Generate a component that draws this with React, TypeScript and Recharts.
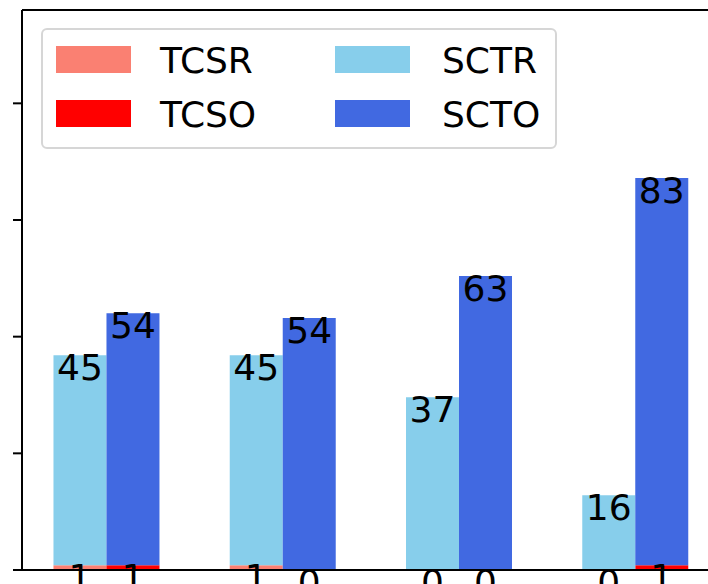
import React from 'react';
import { BarChart, Bar, XAxis, YAxis, ReferenceLine, LabelList, Legend } from 'recharts';

const positions = [0, 1, 2, 3];
const tcsr = [1, 1, 0, 0];
const tcso = [1, 0, 0, 1];
const sctr = [45, 45, 37, 16];
const scto = [54, 54, 63, 83];
const yTicks = [0, 25, 50, 75, 100];

const seriesInfo = [
  { key: 'TCSR', color: '#FA8072' },
  { key: 'TCSO', color: '#FF0000' },
  { key: 'SCTR', color: '#87CEEB' },
  { key: 'SCTO', color: '#4169E1' },
];

const data = positions.map((x, i) => ({
  x,
  TCSR: tcsr[i],
  TCSO: tcso[i],
  SCTR: sctr[i],
  SCTO: scto[i],
}));

const FONT = 'DejaVu Sans, sans-serif';

const NumText = ({ cx, top, value }: { cx: number; top: number; value: any }) => (
  <text x={cx} y={top + 25} textAnchor="middle" fontSize={36} fontFamily={FONT} fill="#000">
    {value}
  </text>
);

// Labels for the upper segment (value at its top) and for the bottom segment
// (value at the top of the bottom segment = bottom of the upper segment).
const makeStackLabel = (bottomValues: number[]) => (props: any) => {
  const { x, y, width, height, value, index } = props;
  const cx = Number(x) + Number(width) / 2;
  const top = Number(y);
  const bottomTop = Number(y) + Number(height);
  return (
    <g>
      <NumText cx={cx} top={top} value={value} />
      <NumText cx={cx} top={bottomTop} value={bottomValues[index]} />
    </g>
  );
};

const EmptyTick = () => <g />;

const LegendBox = () => {
  const cols = [
    [seriesInfo[0], seriesInfo[1]],
    [seriesInfo[2], seriesInfo[3]],
  ];
  const colX = [15, 294];
  const textX = [119, 401];
  const rowY = [18, 72];
  const baseY = [45, 99];
  return (
    <svg width={516} height={121} style={{ display: 'block' }}>
      <rect x={1} y={1} width={514} height={119} rx={5} ry={5} fill="rgba(255,255,255,0.8)" stroke="#d6d6d6" strokeWidth={2} />
      {cols.map((col, c) =>
        col.map((s, r) => (
          <g key={s.key}>
            <rect x={colX[c]} y={rowY[r]} width={75} height={27} fill={s.color} />
            <text x={textX[c]} y={baseY[r]} fontSize={36} fontFamily={FONT} fill="#000">
              {s.key}
            </text>
          </g>
        ))
      )}
    </svg>
  );
};

export default function App() {
  return (
    <div style={{ position: 'absolute', left: 0, top: 0, width: 708, height: 584, overflow: 'hidden', background: '#fff' }}>
      <BarChart
        width={740}
        height={620}
        data={data}
        margin={{ top: 10, right: 20, bottom: 49, left: 0 }}
        barGap={0}
      >
        <XAxis
          dataKey="x"
          type="number"
          domain={[-0.48, 3.48]}
          allowDataOverflow
          tick={EmptyTick}
          tickLine={false}
          height={1}
          axisLine={{ stroke: '#000', strokeWidth: 2 }}
        />
        <YAxis
          type="number"
          domain={[0, 120]}
          ticks={yTicks}
          allowDataOverflow
          width={22}
          tick={EmptyTick}
          tickSize={9}
          tickLine={{ stroke: '#000', strokeWidth: 2 }}
          axisLine={{ stroke: '#000', strokeWidth: 2 }}
        />
        <ReferenceLine y={120} stroke="#000" strokeWidth={2} />
        <ReferenceLine x={3.48} stroke="#000" strokeWidth={2} />
        <Legend
          layout="horizontal"
          verticalAlign="middle"
          align="center"
          wrapperStyle={{ position: 'absolute', left: 41, top: 28, width: 516, height: 121 }}
          content={() => <LegendBox />}
        />
        <Bar dataKey="TCSR" stackId="r" fill="#FA8072" barSize={53} isAnimationActive={false} />
        <Bar dataKey="TCSO" stackId="o" fill="#FF0000" barSize={53} isAnimationActive={false} />
        <Bar dataKey="SCTR" stackId="r" fill="#87CEEB" barSize={53} isAnimationActive={false}>
          <LabelList dataKey="SCTR" content={makeStackLabel(tcsr)} />
        </Bar>
        <Bar dataKey="SCTO" stackId="o" fill="#4169E1" barSize={53} isAnimationActive={false}>
          <LabelList dataKey="SCTO" content={makeStackLabel(tcso)} />
        </Bar>
      </BarChart>
    </div>
  );
}
